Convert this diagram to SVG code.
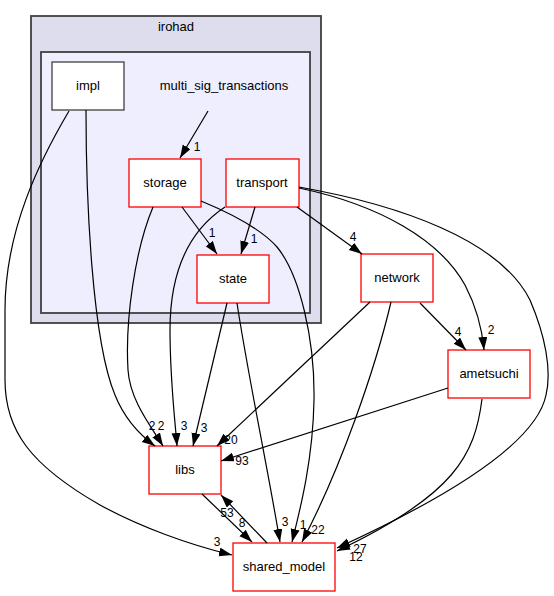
<svg xmlns="http://www.w3.org/2000/svg" width="554" height="596" viewBox="0 0 554 596">
<style>
text{font-family:"Liberation Sans",Arial,sans-serif;fill:#000}
.nl{font-size:13px;text-anchor:middle}
.el{font-size:12px;text-anchor:middle}
.n rect{fill:#fff;stroke:#ff0000;stroke-width:1.3}
.d rect{fill:#fff;stroke:#404040;stroke-width:1.3}
.e path{fill:none;stroke:#000;stroke-width:1.2;marker-end:url(#ah)}
</style>
<defs>
<marker id="ah" markerUnits="userSpaceOnUse" markerWidth="14" markerHeight="10" refX="13" refY="4.5" orient="auto">
<path d="M0,0 L13,4.5 L0,9 z" fill="#000"/>
</marker>
</defs>
<rect width="554" height="596" fill="#fff"/>
<g id="cluster_irohad">
<rect x="31" y="16" width="290" height="307" fill="#ddddee" stroke="#404040" stroke-width="1.8"/>
<text class="nl" x="176" y="31">irohad</text>
</g>
<g id="cluster_multi_sig_transactions">
<rect x="41" y="52" width="269" height="261" fill="#eeeeff" stroke="#404040" stroke-width="1.8"/>
<text class="nl" x="224" y="90">multi_sig_transactions</text>
</g>
<g id="node_impl" class="d"><rect x="52" y="62" width="72" height="48"/><text class="nl" x="88" y="90">impl</text></g>
<g id="node_storage" class="n"><rect x="129" y="159" width="72" height="48"/><text class="nl" x="165" y="187">storage</text></g>
<g id="node_transport" class="n"><rect x="226" y="159" width="73" height="48"/><text class="nl" x="262" y="187">transport</text></g>
<g id="node_state" class="n"><rect x="197" y="255" width="72" height="48"/><text class="nl" x="233" y="283">state</text></g>
<g id="node_network" class="n"><rect x="361" y="254" width="72" height="48"/><text class="nl" x="397" y="282">network</text></g>
<g id="node_ametsuchi" class="n"><rect x="448" y="350" width="82" height="48"/><text class="nl" x="489" y="378">ametsuchi</text></g>
<g id="node_libs" class="n"><rect x="149" y="446" width="72" height="48"/><text class="nl" x="185" y="474">libs</text></g>
<g id="node_shared_model" class="n"><rect x="233" y="543" width="102" height="48"/><text class="nl" x="284" y="571">shared_model</text></g>
<g id="edges" class="e">
<path d="M208,111 L180,158"/>
<path d="M182,207 L217,254"/>
<path d="M255,207 L241,254"/>
<path d="M297,207 L362,254"/>
<path d="M299,188 C380,205 440,240 465,285 C477,308 482,328 484,350"/>
<path d="M299,187 C400,205 500,240 530,300 C545,335 552,370 546,395 C535,450 420,510 337,548"/>
<path d="M225,207 C190,230 170,270 170,330 C170,380 175,420 177,446"/>
<path d="M153,207 C135,250 125,320 128,370 C130,400 150,425 163,446"/>
<path d="M201,201 C230,213 262,230 277,247 C300,275 315,340 314,400 C313,460 300,510 292,542"/>
<path d="M86,110 C86,200 92,340 115,395 C125,420 140,435 155,446"/>
<path d="M69,111 C40,160 5,230 5,310 L5,380 C5,430 30,465 100,505 C140,527 190,545 232,555"/>
<path d="M227,303 L193,446"/>
<path d="M237,303 C247,370 268,470 280,542"/>
<path d="M370,302 L217,446"/>
<path d="M391,302 C375,370 340,470 302,542"/>
<path d="M420,303 L466,350"/>
<path d="M448,388 L221,461"/>
<path d="M482,399 C475,455 455,495 337,551"/>
<path d="M202,494 L252,542"/>
<path d="M267,543 L221,495"/>
</g>
<g id="edge_labels">
<text class="el" x="197" y="151">1</text>
<text class="el" x="212" y="237">1</text>
<text class="el" x="254" y="243">1</text>
<text class="el" x="353" y="241">4</text>
<text class="el" x="491" y="334">2</text>
<text class="el" x="458" y="336">4</text>
<text class="el" x="152" y="430">2</text>
<text class="el" x="161" y="430">2</text>
<text class="el" x="184" y="430">3</text>
<text class="el" x="204" y="432">3</text>
<text class="el" x="231" y="444">20</text>
<text class="el" x="242" y="465">93</text>
<text class="el" x="227" y="517">53</text>
<text class="el" x="242" y="527">8</text>
<text class="el" x="217" y="546">3</text>
<text class="el" x="285" y="526">3</text>
<text class="el" x="303" y="529">1</text>
<text class="el" x="318" y="534">22</text>
<text class="el" x="360" y="553">27</text>
<text class="el" x="356" y="561">12</text>
</g>
</svg>
